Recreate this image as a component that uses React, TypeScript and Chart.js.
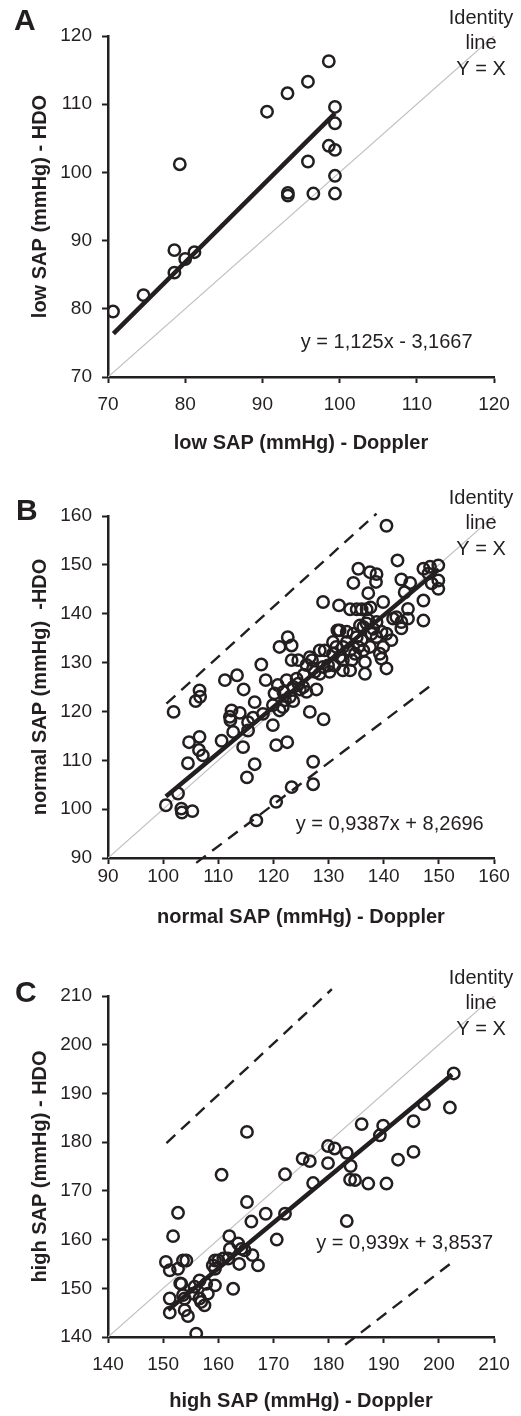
import React, { useEffect, useRef } from "react";
import { Chart, registerables } from "chart.js";

Chart.register(...registerables);

const FONT = "'Liberation Sans', Arial, Helvetica, sans-serif";
const INK = "#231f20";
const IDENTITY_GREY = "#c0c0c0";

// ---------------- Panel A : low SAP ----------------
const aTicks = [70, 80, 90, 100, 110, 120];
const aDoppler = [70.65, 74.6, 78.6, 78.6, 79.3, 80.0, 81.2, 90.6, 93.25, 93.3, 93.3, 95.9, 95.9, 96.6, 98.6, 98.6, 99.4, 99.4, 99.4, 99.4, 99.4];
const aHdo = [79.6, 82.0, 85.3, 88.6, 101.2, 87.3, 88.3, 108.9, 111.6, 97.0, 96.6, 113.3, 101.6, 96.9, 116.3, 103.9, 109.6, 107.2, 103.3, 99.5, 96.9];
const aFitRange = [70.7, 99.4];
const aSlope = 1.125;
const aIntercept = -3.1667;

// ---------------- Panel B : normal SAP ----------------
const bTicks = [90, 100, 110, 120, 130, 140, 150, 160];
const bDoppler = [
  100.5, 102.7, 103.3, 103.4, 105.3, 101.9, 104.5, 104.7, 106.6, 106.5,
  107.2, 105.9, 106.6, 106.7, 110.6, 111.2, 113.4, 114.6, 112.1, 112.4,
  113.9, 112.7, 114.5, 115.4, 115.4, 116.6, 116.6, 115.2, 117.8, 118.6,
  116.9, 119.9, 120.5, 120.5, 122.5, 120.2, 121.1, 123.3, 123.3, 127.2,
  127.2, 126.6, 129.1, 127.8, 126.6, 119.9, 121.7, 120.8, 116.3, 122.6,
  123.3, 124.5, 118.1, 112.2, 122.1, 123.0, 121.8, 122.4, 123.6, 124.2,
  124.5, 124.8, 125.4, 126.0, 123.6, 121.1, 127.2, 127.5, 128.4, 129.0,
  140.5, 135.4, 137.5, 138.7, 134.5, 138.6, 137.2, 142.5, 143.2, 144.8,
  147.2, 148.4, 149.9, 148.1, 149.9, 149.9, 148.7, 143.8, 147.2, 147.2,
  144.4, 144.4, 142.3, 141.7, 143.2, 143.2, 129.0, 131.9, 133.9, 135.1,
  136.0, 136.9, 137.6, 139.9, 132.0, 135.7, 137.2, 141.4, 140.5, 136.6,
  133.9, 128.4, 129.3, 129.9, 130.2, 130.8, 131.4, 132.0, 132.6, 133.3,
  133.9, 134.2, 134.8, 135.4, 136.0, 136.3, 136.6, 137.5, 137.8, 138.1,
  138.7, 139.3, 139.6, 139.9, 140.5, 131.6, 130.8, 131.1, 132.6, 132.6,
  134.5, 133.3, 135.1, 136.3, 136.9, 138.7, 139.6, 125.5, 126.0, 127.0,
];
const bHdo = [
  100.8, 103.2, 100.1, 99.3, 99.6, 119.9, 109.4, 113.7, 114.8, 112.1,
  111.0, 122.1, 124.3, 123.0, 114.0, 126.4, 127.4, 124.5, 118.9, 120.2,
  119.7, 115.8, 112.7, 116.1, 117.8, 121.9, 109.2, 106.5, 129.6, 126.4,
  97.7, 117.2, 101.5, 113.1, 113.7, 123.7, 133.2, 133.5, 104.5, 109.7,
  105.1, 119.9, 118.4, 124.5, 131.1, 121.3, 120.9, 125.4, 118.7, 135.2,
  130.5, 130.5, 119.5, 118.2, 122.3, 123.0, 124.0, 126.4, 125.0, 126.7,
  125.7, 124.5, 125.0, 124.0, 122.1, 120.2, 128.8, 128.1, 127.7, 129.1,
  158.0, 149.2, 148.5, 148.1, 146.3, 146.5, 144.2, 150.9, 147.0, 146.3,
  149.2, 149.6, 149.9, 148.2, 146.8, 145.1, 146.2, 144.4, 142.7, 138.6,
  141.0, 139.0, 139.3, 139.0, 138.3, 137.0, 142.4, 141.7, 140.9, 140.9,
  140.9, 140.9, 141.3, 142.4, 136.6, 137.6, 138.7, 134.6, 128.8, 127.7,
  128.4, 132.5, 132.5, 129.4, 128.1, 131.8, 133.2, 131.1, 133.2, 134.2,
  132.5, 130.5, 131.8, 133.2, 134.6, 132.5, 130.1, 133.2, 135.9, 136.9,
  135.2, 131.8, 130.8, 133.2, 135.9, 136.6, 134.2, 129.4, 130.5, 128.4,
  135.9, 136.3, 135.2, 137.3, 138.0, 138.3, 136.3, 127.5, 129.5, 130.5,
];
const bFitRange = [100.5, 150.0];
const bSlope = 0.9387;
const bIntercept = 8.2696;
const bUpperX = [100.6, 138.7];
const bUpperY = [121.6, 160.5];
const bLowerX = [106.0, 149.0];
const bLowerY = [89.0, 125.7];

// ---------------- Panel C : high SAP ----------------
const cTicks = [140, 150, 160, 170, 180, 190, 200, 210];
const cDoppler = [
  202.7, 202.0, 197.3, 195.4, 195.4, 192.6, 189.9, 189.3, 190.5, 187.2,
  186.0, 183.3, 184.0, 183.9, 184.8, 183.3, 181.1, 179.9, 179.9, 175.3,
  176.6, 177.2, 172.1, 172.1, 170.6, 168.6, 165.2, 165.2, 166.0, 166.2,
  167.2, 160.6, 162.0, 162.7, 152.7, 151.8, 150.5, 151.2, 152.7, 153.6,
  154.2, 153.3, 151.2, 151.2, 153.6, 153.9, 153.9, 154.5, 156.0, 155.7,
  156.6, 156.6, 156.9, 157.5, 158.1, 157.8, 159.4, 159.4, 159.4, 160.0,
  160.9, 162.1, 163.6, 164.2, 163.8, 164.8, 161.8, 159.0, 153.1, 155.4,
];
const cHdo = [
  194.1, 187.1, 187.8, 184.3, 178.0, 176.4, 183.4, 181.4, 171.5, 171.5,
  183.7, 177.8, 175.1, 172.3, 172.2, 163.8, 178.7, 179.2, 175.7, 176.6,
  176.1, 171.6, 173.4, 165.3, 160.0, 165.3, 182.1, 167.7, 163.7, 156.8,
  154.7, 173.3, 160.7, 149.9, 165.5, 160.7, 155.4, 153.7, 154.0, 155.7,
  155.7, 150.9, 147.9, 145.0, 148.6, 147.9, 145.5, 144.3, 140.7, 150.3,
  151.6, 147.9, 147.2, 146.5, 148.9, 150.9, 150.6, 154.0, 155.7, 155.7,
  156.1, 158.1, 159.2, 158.1, 155.0, 157.8, 156.1, 154.7, 151.0, 148.9,
];
const cFitRange = [150.9, 202.4];
const cSlope = 0.939;
const cIntercept = 3.8537;
const cUpperX = [150.6, 180.6];
const cUpperY = [179.8, 211.4];
const cLowerX = [183.0, 202.6];
const cLowerY = [138.4, 155.5];

type Band = { x: number[]; y: number[] };
type PanelCfg = {
  letter: string;
  letterX: number;
  letterBaseline: number;
  height: number;
  plotBottom: number;
  xs: number[];
  ys: number[];
  ticks: number[];
  xTitle: string;
  yTitle: string;
  fitRange: number[];
  slope: number;
  intercept: number;
  bands: Band[];
  equation: string;
  eqX: number;
  eqY: number;
  xTickPad: number;
  xTitlePad: number;
};

const PLOT_TOP = 36;

const panels: PanelCfg[] = [
  {
    letter: "A", letterX: 14, letterBaseline: 30, height: 480, plotBottom: 377,
    xs: aDoppler, ys: aHdo, ticks: aTicks,
    xTitle: "low SAP (mmHg) - Doppler", yTitle: "low SAP (mmHg) - HDO",
    fitRange: aFitRange, slope: aSlope, intercept: aIntercept, bands: [],
    equation: "y = 1,125x - 3,1667", eqX: 106.1, eqY: 74.2,
    xTickPad: 10, xTitlePad: 25,
  },
  {
    letter: "B", letterX: 16, letterBaseline: 40, height: 480, plotBottom: 378,
    xs: bDoppler, ys: bHdo, ticks: bTicks,
    xTitle: "normal SAP (mmHg) - Doppler", yTitle: "normal SAP (mmHg)  -HDO",
    fitRange: bFitRange, slope: bSlope, intercept: bIntercept,
    bands: [{ x: bUpperX, y: bUpperY }, { x: bLowerX, y: bLowerY }],
    equation: "y = 0,9387x + 8,2696", eqX: 141.1, eqY: 95.8,
    xTickPad: 1, xTitlePad: 30.5,
  },
  {
    letter: "C", letterX: 15, letterBaseline: 41.5, height: 456, plotBottom: 377,
    xs: cDoppler, ys: cHdo, ticks: cTicks,
    xTitle: "high SAP (mmHg) - Doppler", yTitle: "high SAP (mmHg) - HDO",
    fitRange: cFitRange, slope: cSlope, intercept: cIntercept,
    bands: [{ x: cUpperX, y: cUpperY }, { x: cLowerX, y: cLowerY }],
    equation: "y = 0,939x + 3,8537", eqX: 193.8, eqY: 158.1,
    xTickPad: 10, xTitlePad: 3,
  },
];

function makeAnnotations(cfg: PanelCfg) {
  return {
    id: "panelText",
    afterDraw(chart: any) {
      const { ctx, chartArea, scales } = chart;
      ctx.save();
      ctx.fillStyle = INK;
      ctx.textBaseline = "alphabetic";
      ctx.font = `bold 30px ${FONT}`;
      ctx.textAlign = "left";
      ctx.fillText(cfg.letter, cfg.letterX, cfg.letterBaseline);

      ctx.font = `20px ${FONT}`;
      ctx.textAlign = "center";
      const cx = chartArea.right - 13;
      const lines = ["Identity", "line", "Y = X"];
      lines.forEach((t, i) => ctx.fillText(t, cx, chartArea.top - 12.5 + i * 25.5));

      ctx.fillText(cfg.equation, scales.x.getPixelForValue(cfg.eqX), scales.y.getPixelForValue(cfg.eqY));
      ctx.restore();
    },
  };
}

function Panel({ cfg }: { cfg: PanelCfg }) {
  const ref = useRef<HTMLCanvasElement>(null);
  useEffect(() => {
    if (!ref.current) return;
    const min = cfg.ticks[0];
    const max = cfg.ticks[cfg.ticks.length - 1];
    const points = cfg.xs.map((x, i) => ({ x, y: cfg.ys[i] }));
    const fit = cfg.fitRange.map((x) => ({ x, y: cfg.slope * x + cfg.intercept }));
    const datasets: any[] = [
      {
        label: "Identity",
        data: [{ x: min, y: min }, { x: max, y: max }],
        showLine: true, borderColor: IDENTITY_GREY, borderWidth: 1.2, pointRadius: 0, order: 5,
      },
      ...cfg.bands.map((b) => ({
        label: "band",
        data: b.x.map((x, i) => ({ x, y: b.y[i] })),
        showLine: true, borderColor: INK, borderWidth: 2.4, borderDash: [12, 8],
        pointRadius: 0, order: 4, clip: false,
      })),
      {
        label: "points",
        data: points,
        showLine: false, pointRadius: 5.7, pointBorderWidth: 2.5,
        pointBackgroundColor: "rgba(0,0,0,0)", pointBorderColor: INK, order: 3,
      },
      {
        label: "fit",
        data: fit,
        showLine: true, borderColor: INK, borderWidth: 4.5, pointRadius: 0, order: 1,
      },
    ];
    const tickFont = { family: FONT, size: 19 };
    const titleFont = { family: FONT, size: 20, weight: "bold" as const };
    const chart = new Chart(ref.current, {
      type: "scatter",
      data: { datasets },
      plugins: [makeAnnotations(cfg)],
      options: {
        animation: false,
        responsive: false,
        devicePixelRatio: 1,
        layout: { padding: { left: 0, right: 27, top: PLOT_TOP, bottom: 0 } },
        plugins: { legend: { display: false }, tooltip: { enabled: false } },
        events: [],
        scales: {
          x: {
            type: "linear", min, max,
            afterBuildTicks: (s: any) => { s.ticks = cfg.ticks.map((v) => ({ value: v })); },
            afterFit: (s: any) => { s.height = cfg.height - cfg.plotBottom; },
            ticks: { autoSkip: false, maxRotation: 0, padding: cfg.xTickPad, color: INK, font: tickFont },
            grid: { drawOnChartArea: false, drawTicks: true, tickLength: 6, tickWidth: 2, tickColor: INK },
            border: { display: true, color: INK, width: 2.5 },
            title: { display: true, text: cfg.xTitle, color: INK, font: titleFont, padding: { top: 0, bottom: cfg.xTitlePad } },
          },
          y: {
            type: "linear", min, max,
            afterBuildTicks: (s: any) => { s.ticks = cfg.ticks.map((v) => ({ value: v })); },
            afterFit: (s: any) => { s.width = 108; },
            ticks: { autoSkip: false, padding: 10, color: INK, font: tickFont },
            grid: { drawOnChartArea: false, drawTicks: true, tickLength: 6, tickWidth: 2, tickColor: INK },
            border: { display: true, color: INK, width: 2.5 },
            title: { display: true, text: cfg.yTitle, color: INK, font: titleFont, padding: { top: 28, bottom: 0 } },
          },
        },
      } as any,
    });
    return () => chart.destroy();
  }, [cfg]);
  return <canvas ref={ref} width={521} height={cfg.height} style={{ display: "block", width: 521, height: cfg.height }} />;
}

export default function App() {
  return (
    <div style={{ position: "absolute", left: 0, top: 0, width: 521, background: "#fff" }}>
      {panels.map((p) => (
        <Panel key={p.letter} cfg={p} />
      ))}
    </div>
  );
}
